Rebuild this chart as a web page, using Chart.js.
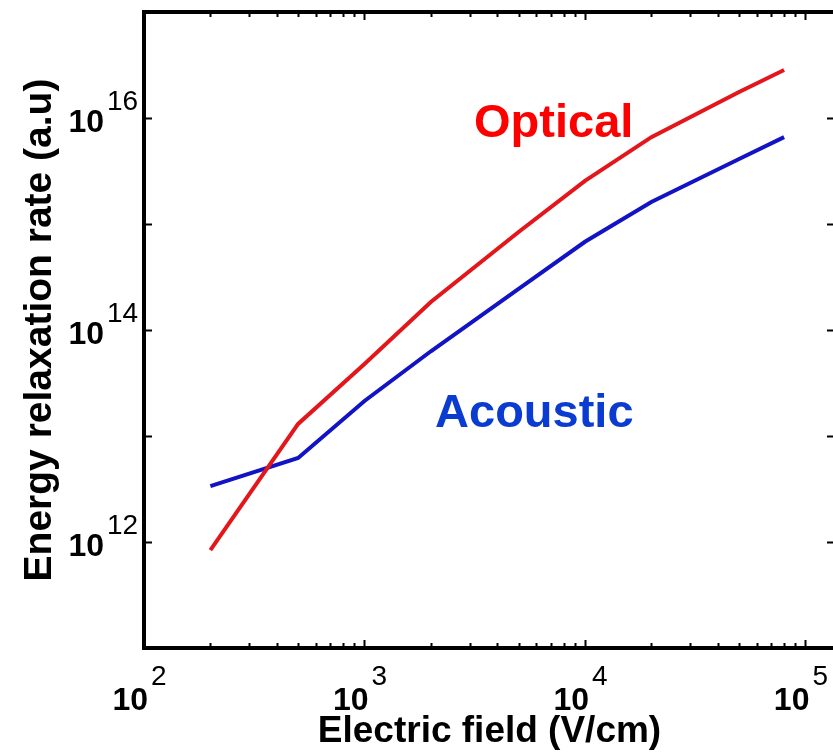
<!DOCTYPE html>
<html>
<head>
<meta charset="utf-8">
<script src="https://cdn.jsdelivr.net/npm/chart.js@4.4.1/dist/chart.umd.min.js"></script>
<style>
html,body{margin:0;padding:0;background:#ffffff;overflow:hidden;width:833px;height:755px}
canvas{display:block}
</style>
</head>
<body>
<canvas id="c" width="850" height="755" style="width:850px;height:755px"></canvas>
<script>
// ---- data ----
const fieldValues    = [200, 500, 1000, 2000, 5000, 10000, 20000, 50000, 80000];          // V/cm
const opticalRates   = [8.4e11, 1.30e13, 4.78e13, 1.84e14, 8.4e14, 2.55e15, 6.6e15, 1.76e16, 2.84e16];
const acousticRates  = [3.37e12, 6.2e12, 2.14e13, 6.3e13, 2.44e14, 6.8e14, 1.61e15, 4.1e15, 6.6e15];
const seriesNames    = ['Optical', 'Acoustic'];
const xTickExponents = [2, 3, 4, 5];
const yTickExponents = [12, 14, 16];
const xTitle = 'Electric field (V/cm)';
const yTitle = 'Energy relaxation rate (a.u)';
// label anchors in data space (left / baseline)
const labelAnchorX = [3140, 2090];
const labelAnchorY = [6.6e15, 1.22e13];

const X_MIN = 100, X_MAX = Math.pow(10, 5.134);
const Y_MIN = 1e11, Y_MAX = 1e17;

const RED = '#e3161b', BLUE = '#1313c6';
const TEXT_RED = '#ff0000', TEXT_BLUE = '#0a3cd2';

const toPts = (xs, ys) => xs.map((x, i) => ({x: x, y: ys[i]}));

const decorPlugin = {
  id: 'decor',
  afterDatasetsDraw(chart) {
    const ctx = chart.ctx;
    const xs = chart.scales.x, ys = chart.scales.y;
    const a = chart.chartArea;
    ctx.save();
    // frame
    ctx.strokeStyle = '#000';
    ctx.lineWidth = 4;
    ctx.lineCap = 'square';
    ctx.strokeRect(a.left, a.top, a.right - a.left, a.bottom - a.top);
    // x ticks (major + minor), inward, bottom and top
    ctx.lineWidth = 2;
    ctx.lineCap = 'butt';
    for (let d = 2; d <= 5; d++) {
      for (let k = 1; k <= 9; k++) {
        const v = k * Math.pow(10, d);
        if (v < X_MIN || v > X_MAX) continue;
        const px = Math.round(xs.getPixelForValue(v)) + 0.5;
        const len = (k === 1) ? 8 : 5;
        ctx.beginPath();
        ctx.moveTo(px, a.bottom); ctx.lineTo(px, a.bottom - len);
        ctx.moveTo(px, a.top); ctx.lineTo(px, a.top + len);
        ctx.stroke();
      }
    }
    // y ticks every decade, inward, left and right
    for (let e = 11; e <= 17; e++) {
      const py = Math.round(ys.getPixelForValue(Math.pow(10, e))) + 0.5;
      ctx.beginPath();
      ctx.moveTo(a.left, py); ctx.lineTo(a.left + 8, py);
      ctx.moveTo(a.right, py); ctx.lineTo(a.right - 8, py);
      ctx.stroke();
    }
    // x tick labels 10^n
    ctx.fillStyle = '#000';
    xTickExponents.forEach(n => {
      const px = xs.getPixelForValue(Math.pow(10, n));
      ctx.font = 'bold 32px "Liberation Sans", Arial, sans-serif';
      ctx.textAlign = 'right';
      ctx.textBaseline = 'alphabetic';
      ctx.fillText('10', px + 4, 710);
      ctx.font = '28px "Liberation Sans Narrow", "Liberation Sans", Arial, sans-serif';
      ctx.textAlign = 'left';
      ctx.fillText(String(n), px + 7, 685);
    });
    // y tick labels 10^n
    yTickExponents.forEach(n => {
      const py = ys.getPixelForValue(Math.pow(10, n));
      ctx.font = 'bold 32px "Liberation Sans", Arial, sans-serif';
      ctx.textAlign = 'right';
      ctx.textBaseline = 'alphabetic';
      ctx.fillText('10', 104, py + 14);
      ctx.font = '28px "Liberation Sans Narrow", "Liberation Sans", Arial, sans-serif';
      ctx.textAlign = 'left';
      ctx.fillText(String(n), 107, py - 8);
    });
    // series labels
    ctx.font = 'bold 47px "Liberation Sans", Arial, sans-serif';
    ctx.textAlign = 'left';
    ctx.textBaseline = 'alphabetic';
    [TEXT_RED, TEXT_BLUE].forEach((col, i) => {
      ctx.fillStyle = col;
      ctx.fillText(seriesNames[i], xs.getPixelForValue(labelAnchorX[i]), ys.getPixelForValue(labelAnchorY[i]));
    });
    ctx.restore();
  }
};

new Chart(document.getElementById('c'), {
  type: 'line',
  data: {
    datasets: [
      { label: seriesNames[0], data: toPts(fieldValues, opticalRates), borderColor: RED, borderWidth: 4, pointRadius: 0, tension: 0, fill: false },
      { label: seriesNames[1], data: toPts(fieldValues, acousticRates), borderColor: BLUE, borderWidth: 4, pointRadius: 0, tension: 0, fill: false }
    ]
  },
  options: {
    responsive: false,
    animation: false,
    devicePixelRatio: 1,
    layout: { padding: { left: 0, right: 15, top: 12, bottom: 0 } },
    plugins: { legend: { display: false }, tooltip: { enabled: false } },
    scales: {
      x: {
        type: 'logarithmic', position: 'bottom', min: X_MIN, max: X_MAX,
        grid: { display: false, drawTicks: false },
        border: { display: false },
        ticks: { display: false },
        title: { display: true, text: xTitle, color: '#000',
                 font: { family: '"Liberation Sans", Arial, sans-serif', size: 37, weight: 'bold', lineHeight: 1 },
                 padding: { top: 65, bottom: 5 } }
      },
      y: {
        type: 'logarithmic', position: 'left', min: Y_MIN, max: Y_MAX,
        grid: { display: false, drawTicks: false },
        border: { display: false },
        ticks: { display: false },
        title: { display: true, text: yTitle, color: '#000',
                 font: { family: '"Liberation Sans", Arial, sans-serif', size: 39, weight: 'bold', lineHeight: 1 },
                 padding: { top: 21, bottom: 84 } }
      }
    }
  },
  plugins: [decorPlugin]
});
</script>
</body>
</html>
